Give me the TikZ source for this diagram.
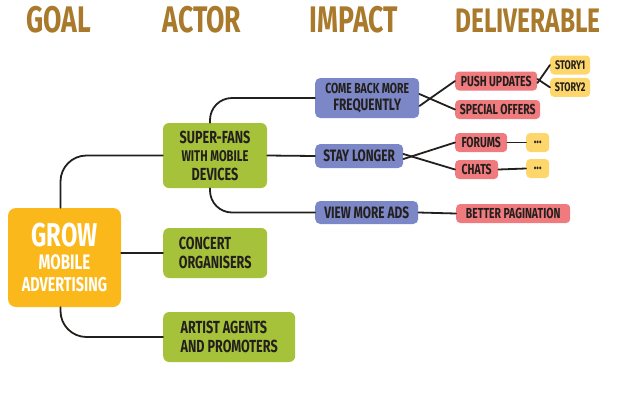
\documentclass[tikz,border=0pt]{standalone}
\usepackage{fontspec}
\setmainfont{Fira Sans}[FakeStretch=0.72]
\usepackage{tikz}
\usetikzlibrary{positioning}
\definecolor{goalorange}{HTML}{FAB81B}
\definecolor{actorgreen}{HTML}{A6C23A}
\definecolor{impactblue}{HTML}{7B87C6}
\definecolor{delivpink}{HTML}{F07B7F}
\definecolor{storyyellow}{HTML}{FDD66C}
\definecolor{headbrown}{HTML}{A97A2C}
\definecolor{ink}{HTML}{231F1C}
\tikzstyle{header} = [text=headbrown, font=\bfseries\fontsize{37}{37}\selectfont]
\tikzstyle{goalbox} = [rectangle, rounded corners=8pt, fill=goalorange, text=white, align=center, font=\bfseries\fontsize{20}{22}\selectfont, inner sep=0pt]
\tikzstyle{actorbox} = [rectangle, rounded corners=6pt, fill=actorgreen, text=ink, inner xsep=10pt, font=\bfseries\fontsize{17.5}{18.5}\selectfont]
\tikzstyle{impactbox} = [rectangle, rounded corners=5pt, fill=impactblue, text=ink, inner sep=0pt, align=center, font=\bfseries\fontsize{16.5}{17}\selectfont]
\tikzstyle{delivbox} = [rectangle, rounded corners=4pt, fill=delivpink, text=ink, inner sep=0pt, minimum height=19pt, text centered, font=\bfseries\fontsize{14.5}{14}\selectfont]
\tikzstyle{storybox} = [rectangle, rounded corners=4pt, fill=storyyellow, text=ink, inner sep=0pt, minimum height=19pt, text centered, font=\bfseries\fontsize{12.5}{12}\selectfont]
\tikzstyle{link} = [line width=1.8pt, draw=ink, line cap=round]

\begin{document}
\begin{tikzpicture}[x=1pt, y=-1pt, node distance=3pt]
        \useasboundingbox (0,0) rectangle (640,400);

        % Headers
        \node (hgoal) [header] at (59,20) {GOAL};
        \node (hactor) [header] at (202,20) {ACTOR};
        \node (himpact) [header] at (354,20) {IMPACT};
        \node (hdeliv) [header, font=\bfseries\fontsize{34}{34}\selectfont] at (528,21) {DELIVERABLE};

        % Goal
        \node (goal) [goalbox, minimum width=113pt, minimum height=99pt] at (64.5,257.5)
            {{\fontsize{33}{33}\selectfont GROW}\\[1pt] {\fontsize{21}{21}\selectfont MOBILE}\\ ADVERTISING};

        % Actors
        \node (fans) [actorbox, align=center, minimum width=104pt, minimum height=65pt] at (215,155.5)
            {SUPER-FANS\\ {\fontsize{15.5}{15.5}\selectfont WITH MOBILE}\\ DEVICES};
        \node (concert) [actorbox, align=left, minimum width=104pt, minimum height=50pt, anchor=west] at (163,253)
            {CONCERT\\ ORGANISERS};
        \node (artist) [actorbox, align=left, minimum width=132pt, minimum height=50pt, anchor=west] at (163,337)
            {ARTIST AGENTS\\ AND PROMOTERS};

        % Impacts
        \node (comeback) [impactbox, minimum width=104pt, minimum height=40pt, anchor=west] at (315,98)
            {{\fontsize{14.5}{14.5}\selectfont COME BACK MORE}\\ FREQUENTLY};
        \node (stay) [impactbox, minimum width=88pt, minimum height=24pt, anchor=west] at (315,156) {STAY LONGER};
        \node (viewads) [impactbox, minimum width=103pt, minimum height=23pt, anchor=west] at (315,212.5) {VIEW MORE ADS};

        % Deliverables
        \node (push) [delivbox, minimum width=82pt, anchor=west] at (455,81) {PUSH UPDATES};
        \node (offers) [delivbox, minimum width=85pt, anchor=west] at (455,109.5) {SPECIAL OFFERS};
        \node (forums) [delivbox, minimum width=52pt, anchor=west] at (455,142.5) {FORUMS};
        \node (chats) [delivbox, minimum width=43pt, anchor=west] at (455,169.5) {CHATS};
        \node (pagination) [delivbox, minimum width=114pt, anchor=west] at (456,213.5) {BETTER PAGINATION};

        % Stories
        \node (story1) [storybox, minimum width=40pt, anchor=west] at (550,65) {STORY1};
        \node (story2) [storybox, minimum width=40pt, below=3pt of story1] {STORY2};
        \node (more1) [storybox, minimum width=23pt, anchor=west, font=\bfseries\fontsize{15}{15}\selectfont] at (526,142.5) {...};
        \node (more2) [storybox, minimum width=23pt, anchor=west, font=\bfseries\fontsize{15}{15}\selectfont] at (526,168.5) {...};

        % Connectors
        \draw [link, rounded corners=26pt] ([xshift=-4pt]goal.north) |- (fans.west);
        \draw [link] (goal.east |- concert.west) -- (concert.west);
        \draw [link, rounded corners=26pt] ([xshift=-4pt]goal.south) |- (artist.west);

        \draw [link, rounded corners=22pt] ([xshift=-5pt]fans.north) |- (comeback.west);
        \draw [link] (fans.east) -- (stay.west);
        \draw [link, rounded corners=22pt] ([xshift=-5pt]fans.south) |- (viewads.west);

        \draw [link] ([yshift=-8pt]comeback.east) -- (push.west);
        \draw [link] ([yshift=4pt]comeback.east) -- (offers.west);
        \draw [link] ([yshift=-3pt]stay.east) -- (forums.west);
        \draw [link] ([yshift=2pt]stay.east) -- (chats.west);
        \draw [link] (viewads.east) -- (pagination.west);

        \draw [link] ([yshift=-2pt]push.east) -- (story1.west);
        \draw [link] ([yshift=2pt]push.east) -- (story2.west);
        \draw [link] (forums.east) -- (more1.west);
        \draw [link] (chats.east) -- (more2.west);

    \end{tikzpicture}
\end{document}
